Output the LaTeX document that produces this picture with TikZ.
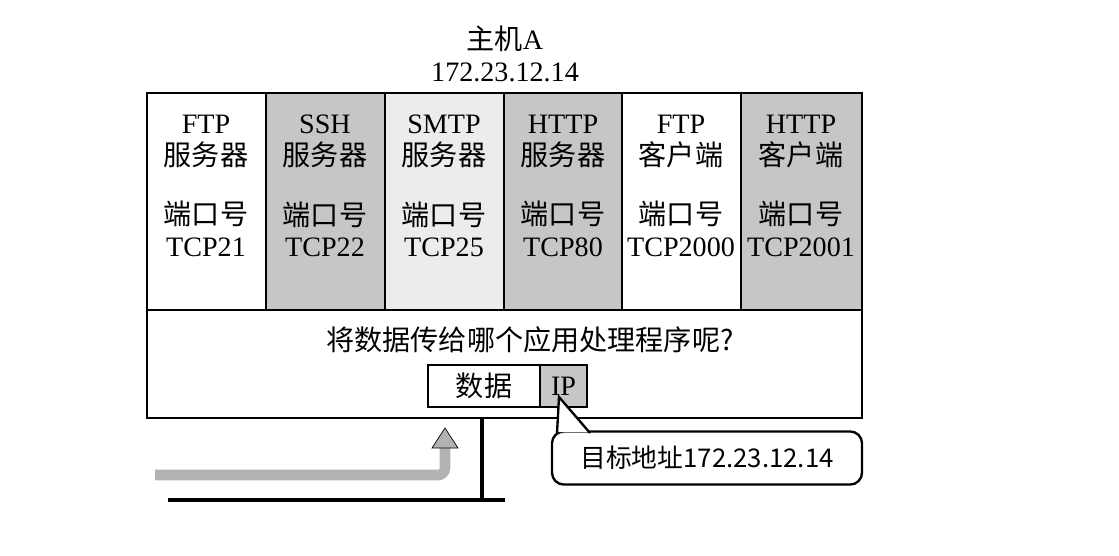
\documentclass[tikz,border=0pt]{standalone}
\usepackage{fontspec}
\setmainfont{Liberation Serif}
\newfontfamily\cjk{Noto Sans CJK SC}
\usetikzlibrary{arrows.meta}
\begin{document}
\begin{tikzpicture}[x=0.03cm,y=-0.03cm,
  lbl/.style={font=\fontsize{24}{27}\selectfont,align=center,inner sep=0pt},
  col/.style={draw=black,line width=1.5pt},
  frame/.style={draw=black,line width=2pt}]
\useasboundingbox (0,0) rectangle (1119,555);
\node[lbl] (title) at (505,54) {\cjk 主机\rmfamily A\\172.23.12.14};
% columns
\fill[gray!10] (147,93) rectangle (862,310);
\fill[gray!45] (266,93) rectangle (385,310);
\fill[gray!15] (385,93) rectangle (504,310);
\fill[gray!45] (504,93) rectangle (622,310);
\fill[gray!45] (741,93) rectangle (862,310);
\fill[white] (147,93) rectangle (266,310);
\fill[white] (622,93) rectangle (741,310);
\foreach \x in {266,385,504,622,741} \draw[col] (\x,93) -- (\x,310);
\draw[frame] (147,93) rectangle (862,418);
\draw[frame] (147,310) -- (862,310);
\node[lbl] (c1) at (206,186) {FTP\\{\cjk 服务器}\\[24pt]{\cjk 端口号}\\TCP21};
\node[lbl] (c2) at (325,186) {SSH\\{\cjk 服务器}\\[24pt]{\cjk 端口号}\\TCP22};
\node[lbl] (c3) at (444,186) {SMTP\\{\cjk 服务器}\\[24pt]{\cjk 端口号}\\TCP25};
\node[lbl] (c4) at (563,186) {HTTP\\{\cjk 服务器}\\[24pt]{\cjk 端口号}\\TCP80};
\node[lbl] (c5) at (681,186) {FTP\\{\cjk 客户端}\\[24pt]{\cjk 端口号}\\TCP2000};
\node[lbl] (c6) at (801,186) {HTTP\\{\cjk 客户端}\\[24pt]{\cjk 端口号}\\TCP2001};
\node[lbl] (q) at (530,340) {\cjk 将数据传给哪个应用处理程序呢?};
\node[draw,line width=1.5pt,minimum width=112*0.03cm,minimum height=42*0.03cm,lbl] (data) at (484,386) {\cjk 数据};
\node[draw,line width=1.5pt,fill=gray!45,minimum width=47*0.03cm,minimum height=42*0.03cm,lbl] (ip) at (563.5,386) {IP};
% network
\coordinate (t) at (482,418);
\coordinate (b) at (482,500);
\coordinate (g1) at (168,500);
\coordinate (g2) at (505,500);
\draw[line width=3pt] (t) -- (b);
\draw[line width=4pt] (g1) -- (g2);
% arrow
\coordinate (a0) at (155,475);
\coordinate (a1) at (445,475);
\coordinate (a2) at (445,440);
\draw[gray!60,line width=9pt,rounded corners=6pt] (a0) -- (a1) -- (a2);
\fill[gray!60,draw=black,line width=0.6pt] (432,448) -- (445,428) -- (458,448) -- cycle;
% callout
\node[draw,line width=2pt,rounded corners=10pt,minimum width=310*0.03cm,minimum height=53*0.03cm,font=\fontsize{22}{24}\selectfont\cjk] (call) at (707,458) {目标地址172.23.12.14};
\fill[white] (557,432) -- (559,397) -- (590,432) -- cycle;
\draw[line width=2pt] (557,433) -- (559,397) -- (590,433);
\end{tikzpicture}
\end{document}
